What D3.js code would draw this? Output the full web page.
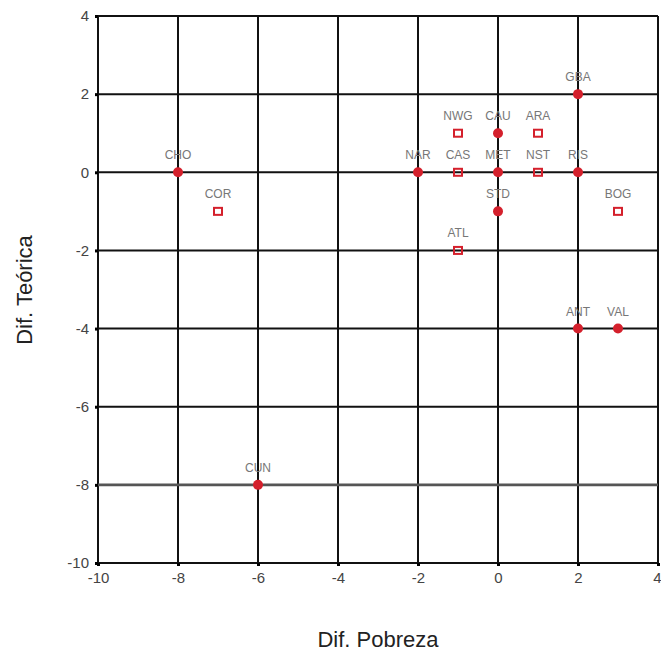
<!DOCTYPE html>
<html><head><meta charset="utf-8">
<script src="https://cdn.jsdelivr.net/npm/d3@7"></script>
<style>body{margin:0;background:#fff}svg{display:block}</style>
</head><body>
<script>
const labels  = ["GBA","NWG","CAU","ARA","NAR","CAS","MET","NST","RIS","STD","BOG","ATL","CHO","COR","ANT","VAL","CUN"];
const difPob  = [2, -1, 0, 1, -2, -1, 0, 1, 2, 0, 3, -1, -8, -7, 2, 3, -6];
const difTeo  = [2, 1, 1, 1, 0, 0, 0, 0, 0, -1, -1, -2, 0, -1, -4, -4, -8];
const markers = ["circle","square","circle","square","circle","square","circle","square","circle","circle","square","square","circle","square","circle","circle","circle"];
const xTicks = [-10,-8,-6,-4,-2,0,2,4];
const yTicks = [-10,-8,-6,-4,-2,0,2,4];

const W=661,H=658;
const svg=d3.select("body").append("svg").attr("width",W).attr("height",H);
const x=d3.scaleLinear().domain([-10,4]).range([98,658]);
const y=d3.scaleLinear().domain([-10,4]).range([563,16]);
const red="#d4202c";
const font="Liberation Sans, Arial, sans-serif";

// grid
const g=svg.append("g");
g.selectAll("line.v").data(xTicks).join("line")
 .attr("x1",d=>x(d)).attr("x2",d=>x(d)).attr("y1",y(4)).attr("y2",y(-10))
 .attr("stroke","#111").attr("stroke-width",2);
g.selectAll("line.h").data(yTicks).join("line")
 .attr("y1",d=>y(d)).attr("y2",d=>y(d)).attr("x1",x(-10)).attr("x2",x(4))
 .attr("stroke",d=>d===-8?"#555":"#111").attr("stroke-width",d=>d===-8?2.6:2);

// axes
const fmt=d=>String(d);
const xa=svg.append("g").attr("transform",`translate(0,${y(-10)})`)
 .call(d3.axisBottom(x).tickValues(xTicks).tickSize(3).tickPadding(6).tickFormat(fmt));
const ya=svg.append("g").attr("transform",`translate(${x(-10)},0)`)
 .call(d3.axisLeft(y).tickValues(yTicks).tickSize(3).tickPadding(6).tickFormat(fmt));
[xa,ya].forEach(a=>{
 a.select(".domain").remove();
 a.selectAll(".tick line").attr("stroke","#000").attr("stroke-width",3);
 a.selectAll(".tick text").attr("font-family",font).attr("font-size",15).attr("fill","#444");
});
xa.selectAll(".tick text").filter(d=>d===4).attr("text-anchor","end").attr("dx",3);

// points
const data=labels.map((l,i)=>({l,x:difPob[i],y:difTeo[i],m:markers[i]}));
const pts=svg.append("g");
pts.selectAll("circle").data(data.filter(d=>d.m==="circle")).join("circle")
 .attr("cx",d=>x(d.x)).attr("cy",d=>y(d.y)).attr("r",5).attr("fill",red);
pts.selectAll("rect").data(data.filter(d=>d.m==="square")).join("rect")
 .attr("x",d=>x(d.x)-4).attr("y",d=>y(d.y)-3.5).attr("width",8).attr("height",7)
 .attr("fill","none").attr("stroke",red).attr("stroke-width",2);
pts.selectAll("text").data(data).join("text")
 .attr("x",d=>x(d.x)).attr("y",d=>y(d.y)-13).attr("text-anchor","middle")
 .attr("font-family",font).attr("font-size",12).attr("fill","#777")
 .text(d=>d.l);

// titles
svg.append("text").attr("x",378).attr("y",647).attr("text-anchor","middle")
 .attr("font-family",font).attr("font-size",22).attr("fill","#222")
 .text("Dif. Pobreza");
svg.append("text").attr("transform","translate(32,290) rotate(-90)").attr("text-anchor","middle")
 .attr("font-family",font).attr("font-size",22).attr("fill","#222")
 .text("Dif. Teórica");
</script>
</body></html>
